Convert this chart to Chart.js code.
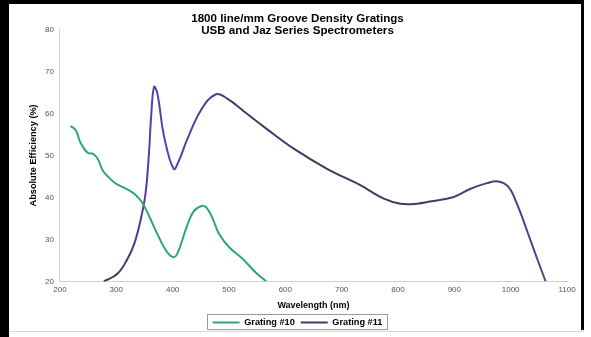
<!DOCTYPE html>
<html>
<head>
<meta charset="utf-8">
<script src="https://cdn.jsdelivr.net/npm/chart.js@4.4.1/dist/chart.umd.min.js"></script>
<style>
  html, body { margin: 0; padding: 0; background: #fff; }
  #wrap { position: relative; width: 591px; height: 337px; overflow: hidden; }
  canvas { position: absolute; left: 0; top: 0; }
  .edge { position: absolute; pointer-events: none; }
  #edgeLeft { left: 0; top: 0; width: 9px; height: 337px; background: #000; }
  #edgeTop { left: 0; top: 0; width: 584px; height: 4px; background: #000; }
  #edgeRight { left: 581px; top: 0; width: 3px; height: 330px; background: #000; }
  #edgeBottom { left: 9px; top: 331px; width: 575px; height: 1px; background: #d8d8d8; }
</style>
</head>
<body>
<div id="wrap">
  <canvas id="chart" width="591" height="337"></canvas>
  <div class="edge" id="edgeLeft"></div>
  <div class="edge" id="edgeTop"></div>
  <div class="edge" id="edgeRight"></div>
  <div class="edge" id="edgeBottom"></div>
</div>
<script>
// Grating #10 efficiency curve (wavelength nm / efficiency %)
const g10Wave = [219, 228, 237, 249, 258, 267, 276, 285, 299, 317, 335, 349, 370, 388, 400, 408, 425, 437, 450, 459, 470, 482, 500, 524, 547, 566];
const g10Eff  = [57.0, 56.0, 52.9, 50.6, 50.4, 49.2, 46.4, 45.0, 43.3, 42.1, 40.5, 38.1, 32.1, 27.4, 25.8, 26.5, 33.0, 36.6, 37.9, 37.7, 35.3, 31.4, 28.2, 25.4, 22.2, 20.0];

// Grating #11 efficiency curve
const g11Wave = [278, 302, 320, 332, 343, 352, 358, 362, 367, 373, 385, 402, 412, 425, 450, 476, 497, 532, 568, 615, 674, 733, 775, 804, 834, 857, 899, 928, 958, 978, 996, 1011, 1029, 1046, 1062];
const g11Eff  = [20.0, 21.8, 25.4, 29.0, 34.5, 41.0, 50.5, 59.5, 66.3, 64.7, 54.4, 46.8, 49.0, 53.5, 60.7, 64.5, 63.5, 59.9, 56.2, 51.6, 46.8, 42.9, 39.7, 38.5, 38.5, 39.0, 40.1, 42.0, 43.4, 43.8, 42.5, 38.5, 32.1, 25.8, 20.0];

const xTicks = [200, 300, 400, 500, 600, 700, 800, 900, 1000, 1100];
const yTicks = [20, 30, 40, 50, 60, 70, 80];

const toPoints = (xs, ys) => xs.map((x, i) => ({ x: x, y: ys[i] }));

const FONT = 'Liberation Sans, Arial, Helvetica, sans-serif';

// violet around the peaks, darker slate toward the ends
function g11Color(ctx) {
  const chart = ctx.chart;
  const area = chart.chartArea;
  if (!area) return '#4a3f80';
  const xs = chart.scales.x;
  const x0 = xs.getPixelForValue(278);
  const x1 = xs.getPixelForValue(1062);
  const g = chart.ctx.createLinearGradient(x0, 0, x1, 0);
  const stop = (wl, c) => g.addColorStop((wl - 278) / (1062 - 278), c);
  stop(278, '#3d3640');
  stop(330, '#4b3a88');
  stop(365, '#5a3eb0');
  stop(420, '#5840a6');
  stop(520, '#3f3b66');
  stop(800, '#3e3c60');
  stop(1000, '#46457e');
  stop(1062, '#4b4a92');
  return g;
}

// thin frame around the legend entries
const legendFrame = {
  id: 'legendFrame',
  afterDraw(chart) {
    const boxes = chart.legend && chart.legend.legendHitBoxes;
    if (!boxes || !boxes.length) return;
    let l = Infinity, r = -Infinity, t = Infinity, b = -Infinity;
    boxes.forEach(h => {
      l = Math.min(l, h.left); r = Math.max(r, h.left + h.width);
      t = Math.min(t, h.top); b = Math.max(b, h.top + h.height);
    });
    const c = chart.ctx;
    c.save();
    c.strokeStyle = '#9a9a9a';
    c.lineWidth = 1;
    c.strokeRect(Math.round(l) - 5.5, Math.round(t) - 3.5, Math.round(r - l) + 10, Math.round(b - t) + 6);
    c.restore();
  }
};

new Chart(document.getElementById('chart'), {
  type: 'line',
  data: {
    datasets: [
      {
        label: 'Grating #10',
        data: toPoints(g10Wave, g10Eff),
        borderColor: '#2ba77a',
        backgroundColor: '#2ba77a',
        borderWidth: 2,
        pointRadius: 0,
        tension: 0.4,
        fill: false
      },
      {
        label: 'Grating #11',
        data: toPoints(g11Wave, g11Eff),
        borderColor: g11Color,
        backgroundColor: '#3e3c60',
        borderWidth: 2,
        pointRadius: 0,
        tension: 0.4,
        fill: false
      }
    ]
  },
  options: {
    responsive: false,
    animation: false,
    devicePixelRatio: 1,
    layout: { padding: { left: 28, right: 24, top: 0, bottom: 0 } },
    plugins: {
      title: {
        display: true,
        text: ['1800 line/mm Groove Density Gratings', 'USB and Jaz Series Spectrometers'],
        color: '#000',
        font: { family: FONT, size: 11.6, weight: 'bold', lineHeight: 1.05 },
        padding: { top: 13, bottom: -8 }
      },
      legend: {
        position: 'bottom',
        labels: {
          color: '#000',
          font: { family: FONT, size: 9.2, weight: 'bold' },
          usePointStyle: true,
          pointStyle: 'line',
          pointStyleWidth: 27,
          boxHeight: 9,
          padding: 6
        }
      },
      tooltip: { enabled: false }
    },
    scales: {
      x: {
        type: 'linear',
        min: 200,
        max: 1100,
        afterBuildTicks: s => { s.ticks = xTicks.map(v => ({ value: v })); },
        ticks: { color: '#555', font: { family: FONT, size: 8 }, padding: 4, maxRotation: 0, callback: v => String(v) },
        grid: { display: false, drawTicks: false },
        border: { display: true, color: '#cfcfcf', width: 1 },
        title: {
          display: true,
          text: 'Wavelength (nm)',
          color: '#000',
          font: { family: FONT, size: 9, weight: 'bold' },
          padding: { top: 1, bottom: 1 }
        }
      },
      y: {
        min: 20,
        max: 80,
        afterBuildTicks: s => { s.ticks = yTicks.map(v => ({ value: v })); },
        ticks: { color: '#555', font: { family: FONT, size: 8 }, padding: 6 },
        grid: { display: false, drawTicks: false },
        border: { display: true, color: '#cfcfcf', width: 1 },
        title: {
          display: true,
          text: 'Absolute Efficiency (%)',
          color: '#000',
          font: { family: FONT, size: 9.2, weight: 'bold' },
          padding: { top: 0, bottom: 0 }
        }
      }
    }
  },
  plugins: [legendFrame]
});
</script>
</body>
</html>
